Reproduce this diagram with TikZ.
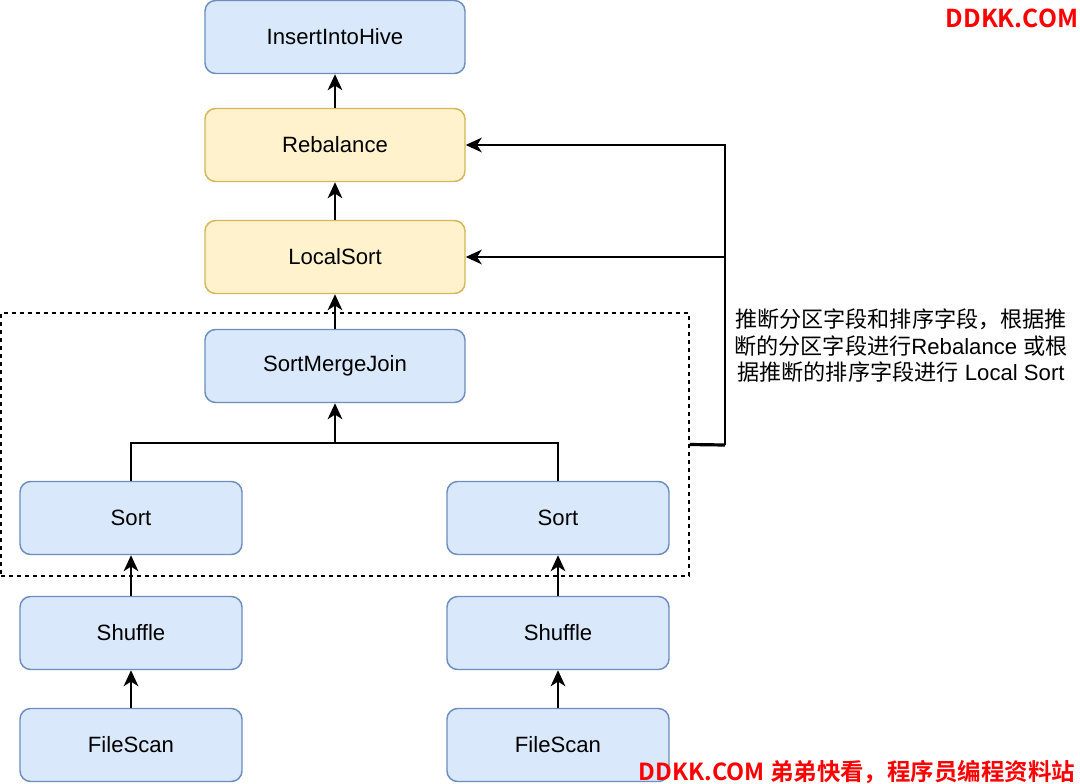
\documentclass[tikz,border=0pt]{standalone}
\usepackage{fontspec}
\setmainfont{Liberation Sans}
\newfontfamily\cjk{Noto Sans CJK SC}[BoldFont={Noto Sans CJK SC Bold}]
\usetikzlibrary{arrows.meta}
\definecolor{blfill}{HTML}{DAE8FC}
\definecolor{blline}{HTML}{6C8EBF}
\definecolor{ylfill}{HTML}{FFF2CC}
\definecolor{ylline}{HTML}{D6B656}
\definecolor{wmred}{HTML}{FF0000}
\begin{document}
\begin{tikzpicture}[x=0.75pt,y=-0.75pt,
  op/.style={draw=blline,fill=blfill,line width=1.1pt,rounded corners=8pt,
    minimum width=195pt,minimum height=54.75pt,inner sep=0pt,
    font=\fontsize{16.6}{19}\selectfont},
  opy/.style={op,draw=ylline,fill=ylfill},
  leaf/.style={op,minimum width=166.5pt},
  arr/.style={-{Stealth[length=12pt,width=11pt,inset=3.5pt]},line width=1.5pt},
  wire/.style={line width=1.5pt},
  grpbox/.style={draw,dashed,dash pattern=on 3pt off 3pt,line width=1.1pt,
    minimum width=516pt,minimum height=197.25pt,inner sep=0pt},
  wm/.style={text=wmred,inner sep=0pt,font=\cjk\bfseries\fontsize{17.6}{19}\selectfont}]
\useasboundingbox (0,0) rectangle (1080,784);
% operators
\node[op] (hive) at (335,37) {InsertIntoHive};
\node[opy] (reb) at (335,145) {Rebalance};
\node[opy] (ls) at (335,257) {LocalSort};
\node[op] (smj) at (335,366) {SortMergeJoin};
\node[leaf] (sl) at (131,518) {Sort};
\node[leaf] (sr) at (558,518) {Sort};
\node[leaf] (shl) at (131,633) {Shuffle};
\node[leaf] (shr) at (558,633) {Shuffle};
\node[leaf] (fsl) at (131,745) {FileScan};
\node[leaf] (fsr) at (558,745) {FileScan};
\node[grpbox] (grp) at (345,444.5) {};
% edges
\draw[arr] (reb) -- (hive);
\draw[arr] (ls) -- (reb);
\draw[arr] (smj) -- (ls);
\coordinate (jn) at (335,443);
\draw[wire] (sl.north) |- (jn) -| (sr.north);
\draw[arr] (jn) -- (smj.south);
\draw[arr] (shl) -- (sl);
\draw[arr] (shr) -- (sr);
\draw[arr] (fsl) -- (shl);
\draw[arr] (fsr) -- (shr);
% feedback
\coordinate (br) at (725,445);
\draw[line width=2.4pt] (grp.east) -- (br);
\draw[arr] (br) |- (reb.east);
\draw[arr] (br |- ls.east) -- (ls.east);
\node[align=center,inner sep=0pt,font=\fontsize{16.6}{19.9}\selectfont] (note) at (901,346)
  {{\cjk 推断分区字段和排序字段，根据推}\\
   {\cjk 断的分区字段进行}Rebalance {\cjk 或根}\\
   {\cjk 据推断的排序字段进行} Local Sort};
% watermarks
\node[wm,font=\cjk\bfseries\fontsize{18.5}{19}\selectfont] (wm1) at (1012,18) {DDKK.COM};
\node[wm] (wm2) at (857,772) {DDKK.COM 弟弟快看，程序员编程资料站};
\end{tikzpicture}
\end{document}
